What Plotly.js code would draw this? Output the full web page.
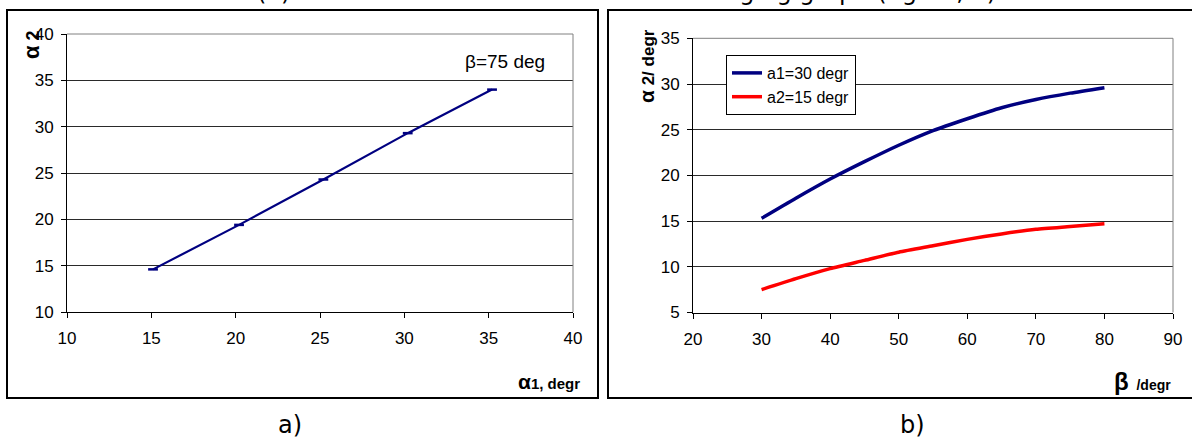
<!DOCTYPE html>
<html>
<head>
<meta charset="utf-8">
<script src="https://cdn.plot.ly/plotly-3.0.1.min.js"></script>
<style>html,body{margin:0;padding:0;background:#fff;}#chart{width:1192px;height:440px;}</style>
</head>
<body>
<div id="chart"></div>
<script>
// Panel a) : alpha2 vs alpha1 at beta = 75 deg
var alpha1 = [15.1, 20.2, 25.2, 30.2, 35.2];
var alpha2 = [14.6, 19.4, 24.3, 29.3, 34.0];

// Panel b) : alpha2 vs beta
var beta = [30, 35, 40, 45, 50, 55, 60, 65, 70, 75, 80];
var a2_for_a1_30 = [15.3, 17.5, 19.6, 21.5, 23.3, 24.9, 26.2, 27.4, 28.3, 29.0, 29.6];
var a2_for_a1_15 = [7.5, 8.7, 9.8, 10.7, 11.6, 12.3, 13.0, 13.6, 14.1, 14.4, 14.7];

var seriesNames = ["a1=30 degr", "a2=15 degr"];
var xTicksA = [10, 15, 20, 25, 30, 35, 40];
var yTicksA = [10, 15, 20, 25, 30, 35, 40];
var xTicksB = [20, 30, 40, 50, 60, 70, 80, 90];
var yTicksB = [5, 10, 15, 20, 25, 30, 35];

var W = 1192, H = 440;
function px(x) { return x / W; }
function py(y) { return 1 - y / H; }

var FONT = "Liberation Sans, Arial, sans-serif";
var DV = "DejaVu Sans, Verdana, sans-serif";

var traces = [
  {
    x: alpha1, y: alpha2, xaxis: 'x', yaxis: 'y', type: 'scatter', mode: 'lines+markers',
    line: {color: '#000080', width: 2.2},
    marker: {symbol: 'line-ew', size: 7, line: {color: '#000080', width: 2.5}, color: '#000080'},
    showlegend: false, hoverinfo: 'skip'
  },
  {
    x: beta, y: a2_for_a1_30, xaxis: 'x2', yaxis: 'y2', type: 'scatter', mode: 'lines',
    name: seriesNames[0],
    line: {color: '#000080', width: 3.5, shape: 'spline', smoothing: 0.6}
  },
  {
    x: beta, y: a2_for_a1_15, xaxis: 'x2', yaxis: 'y2', type: 'scatter', mode: 'lines',
    name: seriesNames[1],
    line: {color: '#ff0000', width: 3.5, shape: 'spline', smoothing: 0.6}
  }
];

function axisCommon() {
  return {
    showline: true, linecolor: '#000', linewidth: 1,
    ticks: 'outside', ticklen: 5, tickcolor: '#000', tickwidth: 1,
    tickfont: {family: FONT, size: 17, color: '#000'},
    zeroline: false, fixedrange: true
  };
}

var xa = Object.assign(axisCommon(), {
  domain: [px(67), px(573)], range: [10, 40], tickvals: xTicksA, showgrid: false,
  anchor: 'y', ticklabelstandoff: 6
});
var ya = Object.assign(axisCommon(), {
  domain: [py(312), py(34)], range: [10, 40], tickvals: yTicksA, showgrid: true,
  gridcolor: '#2a2a2a', gridwidth: 1, anchor: 'x', ticklabelstandoff: 4
});
var xb = Object.assign(axisCommon(), {
  domain: [px(693), px(1173)], range: [20, 90], tickvals: xTicksB, showgrid: false,
  anchor: 'y2', ticklabelstandoff: 6
});
var yb = Object.assign(axisCommon(), {
  domain: [py(312.5), py(38.3)], range: [5, 35], tickvals: yTicksB, showgrid: true,
  gridcolor: '#2a2a2a', gridwidth: 1, anchor: 'x2', ticklabelstandoff: 4
});

var shapes = [
  // outer panel frames
  {type: 'rect', xref: 'paper', yref: 'paper', x0: px(7), x1: px(598), y0: py(398), y1: py(10),
   line: {color: '#000', width: 2}, layer: 'below'},
  {type: 'rect', xref: 'paper', yref: 'paper', x0: px(608), x1: px(1200), y0: py(398), y1: py(10),
   line: {color: '#000', width: 2}, layer: 'below'},
  // grey plot-area borders (top and right)
  {type: 'line', xref: 'x domain', yref: 'y domain', x0: 0, x1: 1, y0: 1, y1: 1, line: {color: '#808080', width: 1}, layer: 'above'},
  {type: 'line', xref: 'x domain', yref: 'y domain', x0: 1, x1: 1, y0: 0, y1: 1, line: {color: '#808080', width: 1}, layer: 'above'},
  {type: 'line', xref: 'x2 domain', yref: 'y2 domain', x0: 0, x1: 1, y0: 1, y1: 1, line: {color: '#808080', width: 1}, layer: 'above'},
  {type: 'line', xref: 'x2 domain', yref: 'y2 domain', x0: 1, x1: 1, y0: 0, y1: 1, line: {color: '#808080', width: 1}, layer: 'above'}
];

function ann(text, x, y, font, extra) {
  return Object.assign({text: text, xref: 'paper', yref: 'paper', x: px(x), y: py(y),
    xanchor: 'center', yanchor: 'middle', showarrow: false, font: font}, extra || {});
}

var annotations = [
  ann('β=75 deg', 505, 62, {family: FONT, size: 19, color: '#000'}),
  ann('<span style="font-size:22px">α</span> 2', 31, 45, {family: FONT, size: 18, color: '#000', weight: 'bold'}, {textangle: -90}),
  ann('<span style="font-size:21px">α</span> 2/ degr', 646, 66, {family: FONT, size: 17, color: '#000', weight: 'bold'}, {textangle: -90}),
  ann('<span style="font-size:21px">α</span>1, degr', 549, 381, {family: FONT, size: 15, color: '#000', weight: 'bold'}),
  ann('<span style="font-size:24px">β</span>  /degr', 1142, 381, {family: FONT, size: 14, color: '#000', weight: 'bold'}),
  ann('a)', 290, 425, {family: DV, size: 24, color: '#000'}),
  ann('b)', 912, 425, {family: DV, size: 24, color: '#000'}),
  // cut-off caption text at the very top of the picture
  ann('(a)', 273, -8, {family: DV, size: 24, color: '#000'}),
  ann('changing graph (figure, b)', 998, -8, {family: DV, size: 24, color: '#000'}, {xanchor: 'right'})
];

var layout = {
  width: W, height: H,
  margin: {l: 0, r: 0, t: 0, b: 0},
  paper_bgcolor: '#fff', plot_bgcolor: '#fff',
  font: {family: FONT, color: '#000'},
  xaxis: xa, yaxis: ya, xaxis2: xb, yaxis2: yb,
  showlegend: true,
  legend: {
    x: px(726), y: py(55), xanchor: 'left', yanchor: 'top',
    bgcolor: '#fff', bordercolor: '#000', borderwidth: 1,
    font: {family: FONT, size: 16, color: '#000'},
    tracegroupgap: 0, itemwidth: 30
  },
  shapes: shapes,
  annotations: annotations
};

Plotly.newPlot('chart', traces, layout, {displayModeBar: false, staticPlot: true});
</script>
</body>
</html>
